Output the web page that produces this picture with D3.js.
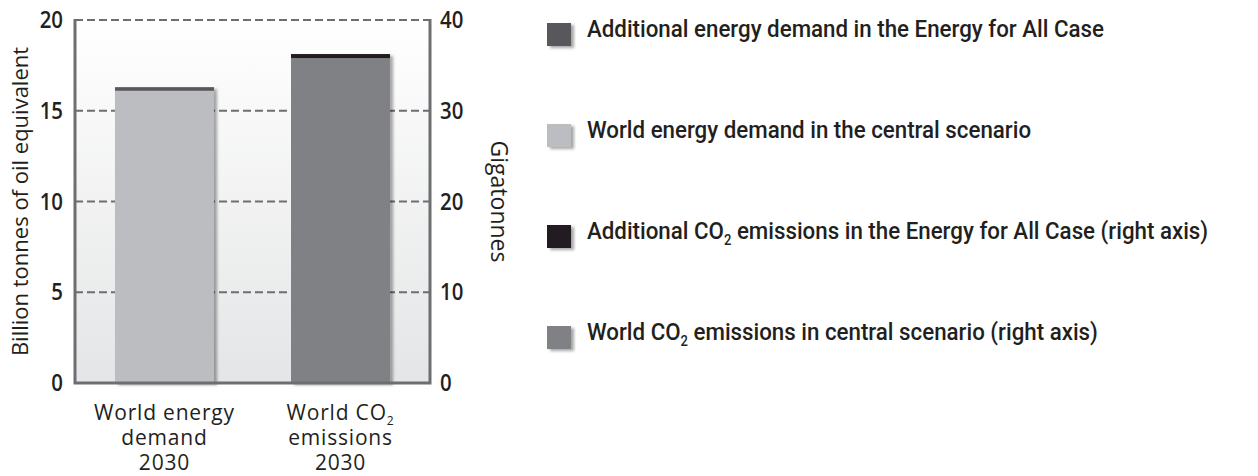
<!DOCTYPE html>
<html>
<head>
<meta charset="utf-8">
<script src="https://cdn.jsdelivr.net/npm/d3@7"></script>
<style>
    body { margin: 0; background: #fff; }
    svg { display: block; }
</style>
</head>
<body>
<svg id="chart"></svg>
<script>
// Bars: left one on the Mtoe axis, right one on the Gt axis
const categories = ["energy", "co2"];
const categoryLines = [
    [["World energy"], ["demand"], ["2030"]],
    [["World CO", "2"], ["emissions"], ["2030"]]
];
const centralValues = [16.1, 35.8];
const additionalValues = [0.2, 0.45];

const leftTicks = [0, 5, 10, 15, 20];
const rightTicks = [0, 10, 20, 30, 40];

const legendLabels = [
    [["Additional energy demand in the Energy for All Case"]],
    [["World energy demand in the central scenario"]],
    [["Additional CO"], ["2", "sub"], [" emissions in the Energy for All Case (right axis)"]],
    [["World CO"], ["2", "sub"], [" emissions in central scenario (right axis)"]]
];
const legendColors = ["#58595b", "#bcbdc0", "#231f20", "#808184"];

const centralColors = ["#bcbdc0", "#808184"];
const additionalColors = ["#58595b", "#231f20"];

const width = 1258, height = 476;
const plot = { left: 75, right: 430, top: 20, bottom: 383 };
const textColor = "#231f20";

const svg = d3.select("#chart")
    .attr("width", width)
    .attr("height", height);

const defs = svg.append("defs");

// Plot background gradient
const grad = defs.append("linearGradient")
    .attr("id", "bg")
    .attr("x1", 0).attr("y1", 0).attr("x2", 0).attr("y2", 1);
grad.append("stop").attr("offset", "0%").attr("stop-color", "#ffffff");
grad.append("stop").attr("offset", "100%").attr("stop-color", "#e4e5e6");

// Soft drop shadow for bars and legend keys
const shadow = defs.append("filter")
    .attr("id", "shadow")
    .attr("x", "-10%").attr("y", "-10%")
    .attr("width", "130%").attr("height", "130%");
shadow.append("feDropShadow")
    .attr("dx", 3).attr("dy", 2)
    .attr("stdDeviation", 1.5)
    .attr("flood-color", "#000")
    .attr("flood-opacity", 0.35);

// Scales
const x = d3.scaleBand()
    .domain(categories)
    .range([plot.left, plot.right])
    .paddingInner(0.4375)
    .paddingOuter(0.227);

const yLeft = d3.scaleLinear().domain([0, 20]).range([plot.bottom, plot.top]);
const yRight = d3.scaleLinear().domain([0, 40]).range([plot.bottom, plot.top]);
const yScales = [yLeft, yRight];

// Background
svg.append("rect")
    .attr("x", plot.left)
    .attr("y", plot.top)
    .attr("width", plot.right - plot.left)
    .attr("height", plot.bottom - plot.top)
    .attr("fill", "url(#bg)");

// Dashed gridlines (including the top border)
svg.append("g")
    .selectAll("line")
    .data(leftTicks.filter(d => d > 0))
    .join("line")
    .attr("x1", plot.left)
    .attr("x2", plot.right)
    .attr("y1", d => yLeft(d))
    .attr("y2", d => yLeft(d))
    .attr("stroke", "#6d6e71")
    .attr("stroke-width", 2)
    .attr("stroke-dasharray", "8,4");

// Stacked bars
const bars = svg.append("g");
categories.forEach((c, i) => {
    const y = yScales[i];
    const g = bars.append("g").attr("filter", "url(#shadow)");
    g.append("rect")
        .attr("x", x(c))
        .attr("width", x.bandwidth())
        .attr("y", y(centralValues[i]))
        .attr("height", y(0) - y(centralValues[i]))
        .attr("fill", centralColors[i]);
    g.append("rect")
        .attr("x", x(c))
        .attr("width", x.bandwidth())
        .attr("y", y(centralValues[i] + additionalValues[i]))
        .attr("height", y(centralValues[i]) - y(centralValues[i] + additionalValues[i]))
        .attr("fill", additionalColors[i]);
});

// Frame: left, bottom, right solid
svg.append("path")
    .attr("d", `M${plot.left},${plot.top - 1}V${plot.bottom}H${plot.right}V${plot.top - 1}`)
    .attr("fill", "none")
    .attr("stroke", "#6d6e71")
    .attr("stroke-width", 3);

// Axes (tick text squeezed a little to match the narrow original face)
const styleTicks = axis => {
    axis.select(".domain").remove();
    axis.attr("font-family", "Open Sans, sans-serif")
        .attr("font-size", 24);
    axis.selectAll(".tick text")
        .attr("font-weight", 600)
        .attr("fill", textColor)
        .attr("transform", "scale(0.85,1)");
};

const leftAxis = svg.append("g")
    .attr("transform", `translate(${plot.left - 12},0)`)
    .call(d3.axisLeft(yLeft).tickValues(leftTicks).tickSize(0).tickPadding(0));
styleTicks(leftAxis);

const rightAxis = svg.append("g")
    .attr("transform", `translate(${plot.right + 10},0)`)
    .call(d3.axisRight(yRight).tickValues(rightTicks).tickSize(0).tickPadding(0));
styleTicks(rightAxis);

// Axis titles
svg.append("text")
    .attr("transform", `translate(28,${(plot.top + plot.bottom) / 2}) rotate(-90)`)
    .attr("text-anchor", "middle")
    .attr("font-family", "Open Sans, sans-serif")
    .attr("font-size", 22)
    .attr("font-weight", 500)
    .attr("fill", textColor)
    .text("Billion tonnes of oil equivalent");

svg.append("text")
    .attr("transform", `translate(491,${(plot.top + plot.bottom) / 2}) rotate(90)`)
    .attr("text-anchor", "middle")
    .attr("font-family", "Open Sans, sans-serif")
    .attr("font-size", 23)
    .attr("font-weight", 500)
    .attr("fill", textColor)
    .text("Gigatonnes");

// Category labels
categories.forEach((c, i) => {
    const t = svg.append("text")
        .attr("text-anchor", "middle")
        .attr("font-family", "Open Sans, sans-serif")
        .attr("font-size", 21)
        .attr("font-weight", 500)
        .attr("letter-spacing", 0.8)
        .attr("fill", textColor);
    categoryLines[i].forEach((parts, j) => {
        t.append("tspan")
            .attr("x", x(c) + x.bandwidth() / 2)
            .attr("y", 420 + j * 25)
            .text(parts[0]);
        if (parts[1]) {
            t.append("tspan")
                .attr("font-size", 12)
                .attr("dy", 5)
                .text(parts[1]);
        }
    });
});

// Legend
const legend = svg.append("g")
    .attr("transform", "translate(547,23)");
legendLabels.forEach((parts, i) => {
    const row = legend.append("g")
        .attr("transform", `translate(0,${i * 101})`);
    row.append("rect")
        .attr("width", 24)
        .attr("height", 23)
        .attr("fill", legendColors[i])
        .attr("filter", "url(#shadow)");
    const t = row.append("text")
        .attr("transform", "translate(40,20) scale(0.93,1)")
        .attr("font-family", "Roboto, sans-serif")
        .attr("font-size", 24)
        .attr("font-weight", 500)
        .attr("fill", textColor);
    parts.forEach(p => {
        if (p[1] === "sub") {
            t.append("tspan").attr("font-size", 14).attr("dy", 6).text(p[0]);
        } else {
            t.append("tspan").attr("dy", t.selectAll("tspan").size() ? -6 : 0).text(p[0]);
        }
    });
});
</script>
</body>
</html>
